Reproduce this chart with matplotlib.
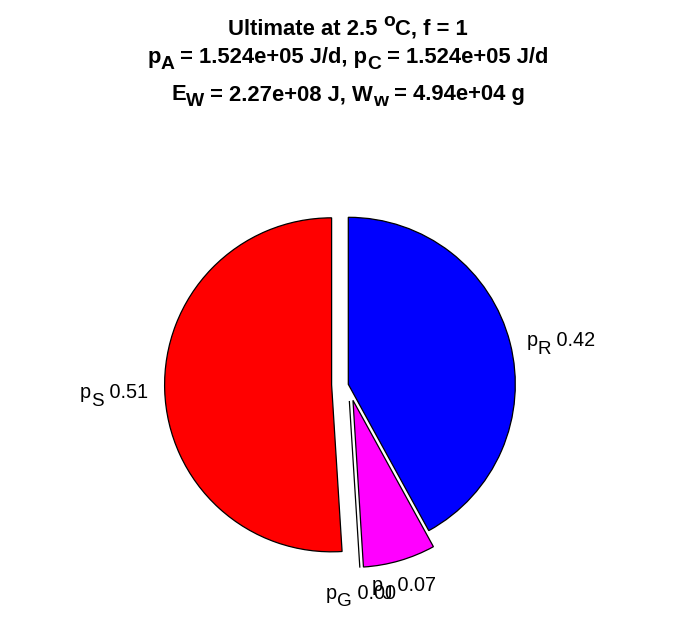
import numpy as np
import matplotlib
matplotlib.use("Agg")
import matplotlib.pyplot as plt
from matplotlib.transforms import IdentityTransform

plt.rcParams['font.family'] = ['Liberation Sans', 'DejaVu Sans']

# data
names = ['R', 'J', 'G', 'S']
fractions = [0.42, 0.07, 0.00, 0.51]
colors = ['#0000ff', '#ff00ff', '#ffffff', '#ff0000']
explode = [0.0, 0.1, 0.1, 0.1]
title_lines = [
    [('Ultimate at 2.5 ', ''), ('o', 'sup'), ('C, f = 1', '')],
    [('p', ''), ('A', 'sub'), (' = 1.524e+05 J/d, p', ''), ('C', 'sub'), (' = 1.524e+05 J/d', '')],
    [('E', ''), ('W', 'sub'), (' = 2.27e+08 J, W', ''), ('w', 'sub'), (' = 4.94e+04 g', '')],
]

W, H = 696, 618
fig = plt.figure(figsize=(W / 100, H / 100), dpi=100)
ax = fig.add_axes([0, 0, 1, 1])
renderer = fig.canvas.get_renderer()


def rich(x, y, segs, size, weight='normal', ha='left', va='baseline',
         sub_shift=0.3, sup_shift=0.42, scale=0.85):
    """Draw text segments with sub/superscripts; x, y in display pixels."""
    px = size * fig.dpi / 72.0
    items = []
    total = 0.0
    for s, kind in segs:
        fs = size * (scale if kind else 1.0)
        t = fig.text(0, 0, s, fontsize=fs, fontweight=weight,
                     transform=IdentityTransform(), ha='left', va='baseline')
        w = t.get_window_extent(renderer).width
        dy = -sub_shift * px if kind == 'sub' else (sup_shift * px if kind == 'sup' else 0.0)
        items.append((t, total, dy))
        total += w
    if ha == 'center':
        x0 = x - total / 2
    elif ha == 'right':
        x0 = x - total
    else:
        x0 = x
    cap = 0.716 * px
    if va == 'center':
        b = y - cap / 2
    elif va == 'top':
        b = y - cap
    else:
        b = y
    for t, off, dy in items:
        t.set_position((x0 + off, b + dy))


cx, cy, R = 348.3, 384.3, 167.0  # pixel center and radius
wedges, _ = ax.pie(fractions, colors=colors, explode=explode, startangle=90,
                   counterclock=False, radius=1.0, normalize=False,
                   wedgeprops=dict(edgecolor='black', linewidth=0.9))
ax.set_xlim(-cx / R, (W - cx) / R)
ax.set_ylim(-(H - cy) / R, cy / R)
ax.set_aspect('auto')
ax.axis('off')

# labels
start = 90.0
cum = 0.0
for n, f, e in zip(names, fractions, explode):
    mid = np.deg2rad(start - 360 * (cum + f / 2))
    cum += f
    dist = 1.1 + e
    c, s = np.cos(mid), np.sin(mid)
    if abs(c) < 0.5:
        ha = 'center'
    else:
        ha = 'left' if c > 0 else 'right'
    if s < -0.5:
        va = 'top'
    elif s > 0.5:
        va = 'bottom'
    else:
        va = 'center'
    X, Y = ax.transData.transform((dist * c, dist * s))
    rich(X, Y, [('p', ''), (n, 'sub'), (' %.2f' % f, '')], 14.3, ha=ha, va=va,
         sub_shift=0.4, scale=0.95)

baselines = [35, 63, 100]
for segs, b in zip(title_lines, baselines):
    rich(W / 2, H - b, segs, 15.8, weight='bold', ha='center', va='baseline',
         sub_shift=0.28, sup_shift=0.42, scale=0.88)

fig.savefig('out.png', dpi=100)
